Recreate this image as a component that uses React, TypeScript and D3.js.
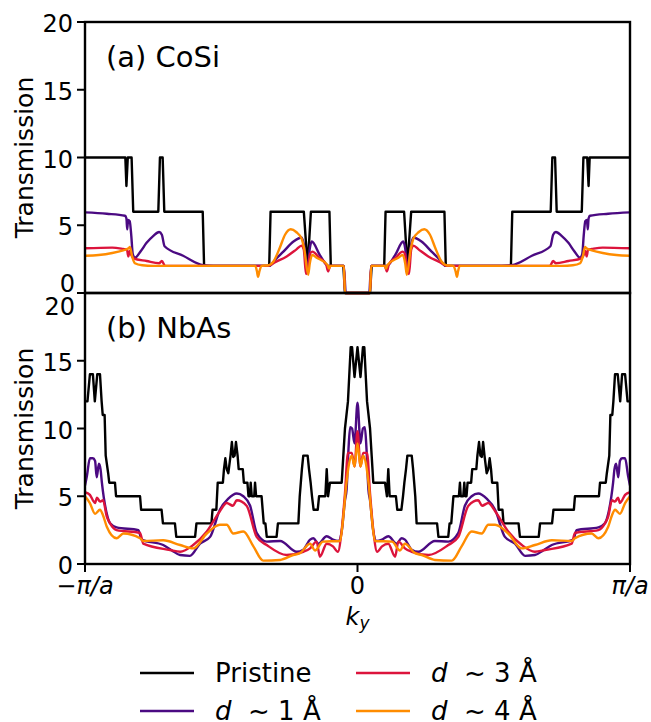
import React from 'react';
import * as d3 from 'd3';

type Pt = [number, number];

// Left half of each curve, k in units of pi/a from -1 to 0.
// The curves are symmetric in k, the right half is the mirror image.

// (a) CoSi
const cosiPristine: Pt[] = [
  [-1, 10], [-0.852, 10], [-0.848, 7.9], [-0.843, 10], [-0.829, 10], [-0.823, 6],
  [-0.731, 6], [-0.725, 10], [-0.715, 10], [-0.709, 6], [-0.568, 6], [-0.563, 2],
  [-0.324, 2], [-0.319, 6], [-0.197, 6], [-0.183, 1.95], [-0.171, 6], [-0.103, 6],
  [-0.098, 2], [-0.052, 2], [-0.046, 0], [0, 0],
];
const cosiD1: Pt[] = [
  [-1, 5.95], [-0.92, 5.85], [-0.853, 5.7], [-0.848, 5.5], [-0.845, 4.7], [-0.842, 5.4],
  [-0.836, 5.3], [-0.83, 4.2], [-0.825, 2.9], [-0.817, 2.6], [-0.795, 3.1], [-0.774, 3.7],
  [-0.75, 4.2], [-0.728, 4.5], [-0.718, 4.3], [-0.708, 3.45], [-0.64, 2.75], [-0.566, 2.05],
  [-0.53, 2.0], [-0.324, 2.0], [-0.3, 2.5], [-0.272, 3.05], [-0.235, 3.8], [-0.205, 4.1],
  [-0.197, 3.6], [-0.183, 1.8], [-0.175, 3.3], [-0.168, 3.8], [-0.138, 2.8], [-0.107, 2.0],
  [-0.05, 2.0], [-0.043, 0], [0, 0],
];
const cosiD3: Pt[] = [
  [-1, 3.3], [-0.9, 3.35], [-0.86, 3.25], [-0.846, 3.2], [-0.841, 2.7], [-0.836, 3.1],
  [-0.83, 2.8], [-0.822, 2.55], [-0.774, 2.36], [-0.728, 2.2], [-0.718, 2.36], [-0.706, 2.0],
  [-0.33, 2.0], [-0.3, 2.3], [-0.26, 2.7], [-0.225, 3.2], [-0.205, 3.5], [-0.197, 3.2],
  [-0.189, 1.4], [-0.182, 1.8], [-0.174, 2.9], [-0.166, 3.05], [-0.14, 2.6], [-0.115, 2.1],
  [-0.108, 1.6], [-0.1, 2.0], [-0.05, 2.0], [-0.046, 0], [0, 0],
];
const cosiD4: Pt[] = [
  [-1, 2.75], [-0.95, 2.8], [-0.9, 2.95], [-0.86, 3.15], [-0.84, 3.3], [-0.835, 3.4],
  [-0.827, 2.7], [-0.817, 2.2], [-0.79, 2.05], [-0.75, 2.0], [-0.375, 2.0], [-0.369, 1.6],
  [-0.365, 1.2], [-0.36, 1.6], [-0.352, 2.0], [-0.325, 2.05], [-0.309, 2.3], [-0.284, 3.4],
  [-0.266, 4.3], [-0.245, 4.7], [-0.225, 4.5], [-0.205, 4.0], [-0.195, 3.2], [-0.181, 1.35],
  [-0.175, 2.2], [-0.166, 2.8], [-0.15, 2.6], [-0.11, 2.07], [-0.105, 1.8], [-0.1, 2.0],
  [-0.05, 2.0], [-0.046, 0], [0, 0],
];

// (b) NbAs
const nbasPristine: Pt[] = [
  [-1, 12], [-0.991, 12], [-0.982, 14], [-0.971, 14], [-0.964, 12], [-0.955, 14],
  [-0.945, 14], [-0.939, 12], [-0.935, 11], [-0.928, 11], [-0.924, 8], [-0.915, 6.7],
  [-0.911, 6], [-0.89, 6], [-0.886, 5], [-0.798, 5], [-0.794, 4], [-0.719, 4],
  [-0.714, 3], [-0.67, 3], [-0.665, 2], [-0.596, 2], [-0.591, 3], [-0.536, 3],
  [-0.532, 4], [-0.518, 4], [-0.513, 6], [-0.494, 6], [-0.49, 7], [-0.485, 7.8],
  [-0.48, 7], [-0.474, 6.7], [-0.466, 8], [-0.461, 9], [-0.456, 7.9], [-0.451, 8],
  [-0.446, 9], [-0.44, 8], [-0.436, 7], [-0.421, 7], [-0.417, 6], [-0.404, 6],
  [-0.4, 5], [-0.395, 5], [-0.392, 6], [-0.388, 5], [-0.379, 5], [-0.376, 6],
  [-0.372, 5], [-0.352, 5], [-0.348, 4], [-0.344, 3], [-0.338, 3], [-0.333, 2],
  [-0.297, 2], [-0.292, 3], [-0.217, 3], [-0.212, 5], [-0.208, 6], [-0.204, 7],
  [-0.199, 8], [-0.183, 8], [-0.178, 7], [-0.172, 6], [-0.167, 5], [-0.161, 4],
  [-0.146, 4], [-0.141, 5], [-0.118, 5], [-0.113, 7], [-0.108, 5], [-0.101, 6],
  [-0.058, 6], [-0.052, 8], [-0.046, 10], [-0.035, 12], [-0.025, 16], [-0.02, 16],
  [-0.011, 13.8], [0, 16],
];
const nbasD1: Pt[] = [
  [-1, 5.8], [-0.993, 6.5], [-0.982, 7.8], [-0.971, 7.8], [-0.963, 7.6], [-0.957, 6.4],
  [-0.949, 7.4], [-0.943, 7.0], [-0.938, 6.0], [-0.92, 3.7], [-0.908, 3.0], [-0.884, 2.7],
  [-0.804, 2.5], [-0.792, 1.8], [-0.713, 1.4], [-0.681, 1.0], [-0.651, 0.66], [-0.615, 0.6],
  [-0.578, 1.5], [-0.541, 2.0], [-0.505, 4.0], [-0.475, 4.8], [-0.443, 5.2], [-0.419, 5.0],
  [-0.394, 4.3], [-0.37, 2.3], [-0.333, 1.65], [-0.284, 1.7], [-0.223, 0.9], [-0.199, 1.05],
  [-0.174, 1.8], [-0.162, 1.9], [-0.144, 1.5], [-0.113, 2.05], [-0.09, 1.8], [-0.07, 1.7],
  [-0.058, 2.4], [-0.046, 4.7], [-0.04, 5.5], [-0.033, 8.5], [-0.027, 10.1], [-0.02, 10.0],
  [-0.011, 8.9], [0, 11.9],
];
const nbasD3: Pt[] = [
  [-1, 5.3], [-0.982, 5.1], [-0.971, 4.7], [-0.963, 4.5], [-0.956, 4.9], [-0.945, 4.6],
  [-0.934, 4.7], [-0.92, 3.5], [-0.908, 3.0], [-0.884, 2.5], [-0.798, 2.3], [-0.786, 1.5],
  [-0.688, 1.03], [-0.651, 0.9], [-0.603, 1.4], [-0.553, 2.4], [-0.505, 3.9], [-0.48, 4.5],
  [-0.457, 4.3], [-0.443, 4.7], [-0.407, 4.3], [-0.37, 2.0], [-0.333, 1.4], [-0.26, 0.66],
  [-0.199, 0.9], [-0.174, 1.15], [-0.15, 1.65], [-0.138, 0.54], [-0.113, 1.5], [-0.09, 1.3],
  [-0.072, 0.9], [-0.058, 2.5], [-0.046, 5.2], [-0.035, 8.2], [-0.021, 8.2], [-0.011, 7.2],
  [0, 9.8],
];
const nbasD4: Pt[] = [
  [-1, 5.0], [-0.982, 4.5], [-0.963, 3.7], [-0.945, 4.0], [-0.934, 3.6], [-0.92, 2.75],
  [-0.884, 1.9], [-0.859, 2.25], [-0.798, 1.9], [-0.786, 1.7], [-0.713, 1.75], [-0.651, 1.4],
  [-0.603, 1.15], [-0.553, 2.25], [-0.505, 2.9], [-0.48, 2.9], [-0.456, 2.25], [-0.419, 2.4],
  [-0.382, 1.3], [-0.346, 0.25], [-0.284, 0.3], [-0.236, 0.66], [-0.211, 0.8], [-0.174, 1.5],
  [-0.156, 1.0], [-0.127, 1.65], [-0.064, 1.7], [-0.052, 3.5], [-0.042, 5.7], [-0.031, 7.4],
  [-0.021, 8.0], [-0.011, 7.2], [0, 8.9],
];

const yTicks = [0, 5, 10, 15, 20];
const seriesNames = ['Pristine', 'd ~ 1 Å', 'd ~ 3 Å', 'd ~ 4 Å'];
const colors = ['#000000', '#4b0a82', '#dc143c', '#ff8c00'];

const mirror = (half: Pt[]): Pt[] => {
  const right = half.filter(d => d[0] < 0).map(d => [-d[0], d[1]] as Pt).reverse();
  return [...half, ...right];
};

const panels = [
  { label: '(a) CoSi', series: [cosiPristine, cosiD1, cosiD3, cosiD4], top: 22, bottom: 293 },
  { label: '(b) NbAs', series: [nbasPristine, nbasD1, nbasD3, nbasD4], top: 293, bottom: 564 },
];

const font = 'DejaVu Sans, sans-serif';

export default function App() {
  const W = 651, H = 722;
  const left = 85, right = 630;
  const x = d3.scaleLinear().domain([-1, 1]).range([left, right]);

  return (
    <svg width={W} height={H} style={{ position: 'absolute', left: 0, top: 0, background: '#fff' }}
      fontFamily={font}>
      <defs>
        {panels.map((p, i) => (
          <clipPath id={`clip${i}`} key={i}>
            <rect x={left} y={p.top - 2} width={right - left} height={p.bottom - p.top + 4} />
          </clipPath>
        ))}
      </defs>
      {panels.map((p, pi) => {
        const y = d3.scaleLinear().domain([0, 20]).range([p.bottom, p.top]);
        return (
          <g key={pi}>
            <g clipPath={`url(#clip${pi})`}>
              {p.series.map((s, si) => {
                const line = d3.line<Pt>()
                  .x(d => x(d[0]))
                  .y(d => y(d[1]))
                  .curve(si === 0 ? d3.curveLinear : d3.curveMonotoneX);
                return (
                  <path key={si} d={line(mirror(s)) || ''} fill="none" stroke={colors[si]}
                    strokeWidth={2.4} strokeLinejoin="round" />
                );
              })}
            </g>
            <rect x={left} y={p.top} width={right - left} height={p.bottom - p.top}
              fill="none" stroke="#000" strokeWidth={2.4} />
            {yTicks.map(t => {
              let ty = y(t) + 10;
              let tx = 73;
              if (pi === 0 && t === 0) { ty = 291.5; tx = 75; }
              if (pi === 1 && t === 20) { ty = 315; tx = 75; }
              return (
                <g key={t}>
                  <line x1={left - 8} x2={left} y1={y(t)} y2={y(t)} stroke="#000" strokeWidth={2} />
                  <text x={tx} y={ty} fontSize={24} textAnchor="end">{t}</text>
                </g>
              );
            })}
            <text x={106} y={p.top + 45} fontSize={29}>{p.label}</text>
            <text transform={`translate(33,${(p.top + p.bottom) / 2}) rotate(-90)`}
              fontSize={25} textAnchor="middle">Transmission</text>
          </g>
        );
      })}
      {/* x axis */}
      {[-1, 0, 1].map(t => (
        <g key={t}>
          <line x1={x(t)} x2={x(t)} y1={564} y2={572} stroke="#000" strokeWidth={2} />
          <text x={x(t)} y={594} fontSize={24} textAnchor="middle">
            {t === -1 && <tspan>−</tspan>}
            {t === 0 ? <tspan>0</tspan> : <tspan fontStyle="italic">π/a</tspan>}
          </text>
        </g>
      ))}
      <text x={x(0)} y={625} fontSize={24} textAnchor="middle" fontStyle="italic">
        k<tspan fontSize={17} dy={4}>y</tspan>
      </text>
      {/* legend */}
      {seriesNames.map((name, i) => {
        const col = i === 0 || i === 1 ? 0 : 1;
        const row = i === 0 || i === 2 ? 0 : 1;
        const lx = col === 0 ? 140 : 356;
        const cy = row === 0 ? 673 : 711;
        return (
          <g key={name}>
            <line x1={lx} x2={lx + 54} y1={cy} y2={cy} stroke={colors[i]} strokeWidth={2.6} />
            <text x={lx + 75} y={cy + 8.5} fontSize={26} style={{ whiteSpace: 'pre' }}>
              {i === 0 ? name : (
                <>
                  <tspan fontStyle="italic">d</tspan>
                  <tspan>{'  ' + name.slice(2)}</tspan>
                </>
              )}
            </text>
          </g>
        );
      })}
    </svg>
  );
}
